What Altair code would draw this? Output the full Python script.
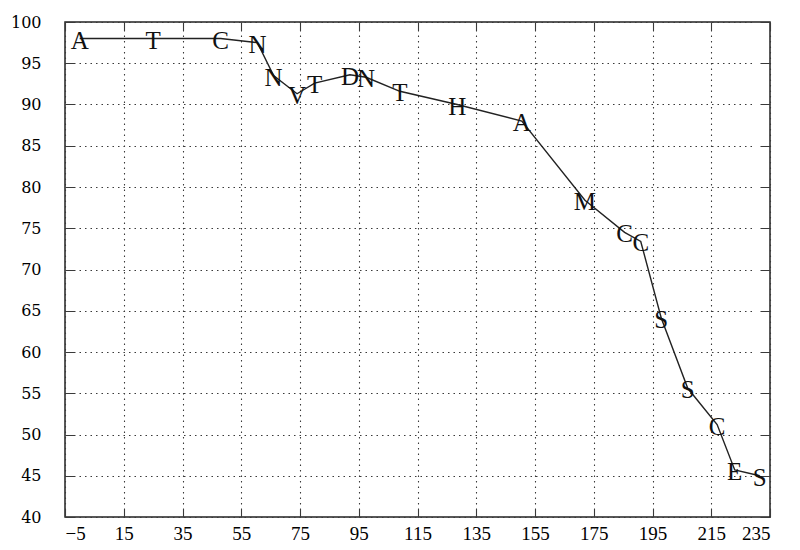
import altair as alt
import pandas as pd

letters = ["A", "T", "C", "N", "N", "V", "T", "D", "N", "T",
           "H", "A", "M", "C", "C", "S", "S", "C", "E", "S"]
positions = [0, 25, 48, 60.5, 66, 74, 80, 92, 97.5, 109,
             128.5, 150.5, 172, 185.5, 191, 198, 207, 217, 223, 231.5]
percent = [98, 98, 98, 97.5, 93.5, 91.3, 92.6, 93.6, 93.3, 91.6,
           90, 88, 78.4, 74.5, 73.4, 64.1, 55.6, 51.2, 45.7, 45]
x_ticks = list(range(-5, 236, 20))
y_ticks = list(range(40, 101, 5))

W, H = 705, 495

df = pd.DataFrame({"pos": positions, "pct": percent, "letter": letters,
                   "order": list(range(len(letters)))})

xscale = alt.Scale(domain=[-5, 235], nice=False, zero=False)
yscale = alt.Scale(domain=[40, 100], nice=False, zero=False)

# Grid dash patterns: a solid inward tick at both ends of each grid line,
# dotted in between (vertical lines are H long, horizontal lines W long).
v_dash = [9, 4] + [1.5, 4] * 86 + [9, 10]
h_dash = [10, 4] + [1.5, 4] * 122 + [1.5, 8.5] + [10, 10]

common = dict(grid=True, gridColor="#3a3a3a", gridWidth=1.1,
              ticks=False, domain=False, labelColor="#000", title=None)
x_main = alt.Axis(orient="bottom", values=x_ticks, labelFont="Liberation Serif",
                  labelFontSize=19, labelPadding=7, gridDash=v_dash, **common)
y_main = alt.Axis(orient="left", values=y_ticks, labelFont="DejaVu Serif",
                  labelFontSize=16, labelPadding=24, gridDash=h_dash, **common)

line = alt.Chart(df).mark_line(color="#222", strokeWidth=1.4).encode(
    x=alt.X("pos:Q", scale=xscale, axis=x_main),
    y=alt.Y("pct:Q", scale=yscale, axis=y_main),
    order="order:Q",
)
text = alt.Chart(df).mark_text(font="Liberation Serif", fontSize=25, color="#111",
                               baseline="middle", align="center", dy=2).encode(
    x=alt.X("pos:Q", scale=xscale, axis=x_main),
    y=alt.Y("pct:Q", scale=yscale, axis=y_main),
    text="letter:N",
)

chart = alt.layer(line, text).properties(
    width=W, height=H,
    autosize=alt.AutoSizeParams(type="none"),
    padding={"left": 57, "top": 14, "right": 10, "bottom": 40},
    background="white",
).configure_view(stroke="#222", strokeWidth=1.5)

chart.save("out.html", embed_options={"renderer": "svg", "actions": False})
